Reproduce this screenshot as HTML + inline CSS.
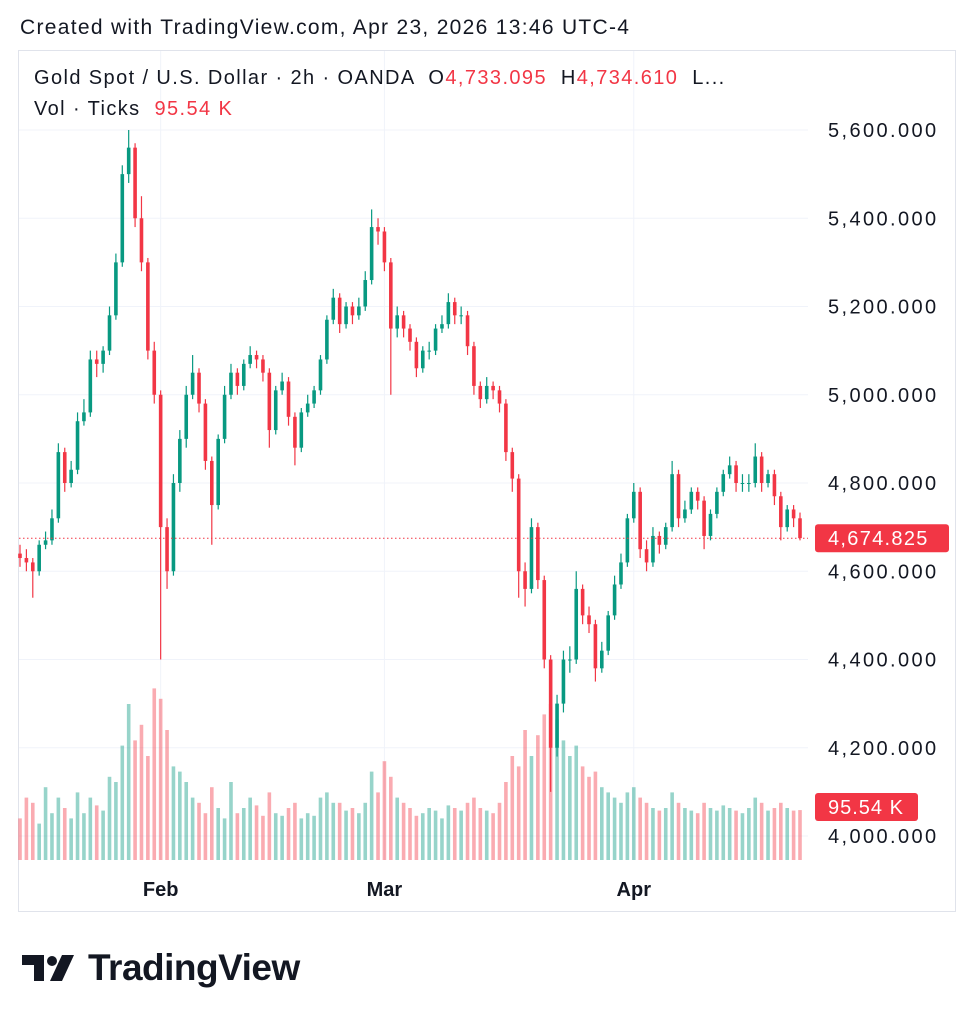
<!DOCTYPE html>
<html><head><meta charset="utf-8">
<style>
body{margin:0;background:#fff;width:974px;height:1024px;overflow:hidden;font-family:"Liberation Sans",sans-serif;color:#131722}
#hdr{position:absolute;left:20px;top:16px;font-size:21px;letter-spacing:1.3px}
#frame{position:absolute;left:18px;top:50px;width:938px;height:862px;border:1px solid #e0e3eb;box-sizing:border-box}
.leg{position:absolute;left:34px;font-size:20px;letter-spacing:1.4px;white-space:pre}
.r{color:#f23645}
#logo{position:absolute;left:22px;top:947px;display:flex;align-items:center}
#logo span{font-size:37px;font-weight:bold;letter-spacing:-0.5px;margin-left:12px}
</style></head><body>
<div id="hdr">Created with TradingView.com, Apr 23, 2026 13:46 UTC-4</div>
<div id="frame"></div>
<svg id="chart" width="974" height="1024" style="position:absolute;left:0;top:0"></svg>
<div class="leg" style="top:67px">Gold Spot / U.S. Dollar · 2h · OANDA  O<span class="r">4,733.095</span>  H<span class="r">4,734.610</span>  L...</div>
<div class="leg" style="top:98px">Vol · Ticks  <span class="r">95.54 K</span></div>
<div id="logo">
<svg width="54" height="30" viewBox="0 0 54 30"><path d="M0 2h22v26h-10v-16h-12z" fill="#131722"/><circle cx="30" cy="8" r="5" fill="#131722"/><path d="M40 2h12l-12 26h-12z" fill="#131722"/></svg>
<span>TradingView</span></div>
<script>
const closes=[4630,4620,4600,4660,4670,4720,4870,4800,4830,4940,4960,5080,5070,5100,5180,5300,5500,5560,5400,5300,5100,5000,4700,4600,4800,4900,5000,5050,4980,4850,4750,4900,5000,5050,5020,5070,5090,5080,5050,4920,5010,5030,4950,4880,4960,4980,5010,5080,5170,5220,5160,5200,5180,5200,5260,5380,5370,5300,5150,5180,5150,5120,5060,5100,5100,5150,5160,5210,5180,5180,5110,5020,4990,5020,5010,4980,4870,4810,4600,4560,4700,4580,4400,4200,4300,4400,4400,4560,4500,4480,4380,4420,4500,4570,4620,4720,4780,4650,4620,4680,4660,4700,4820,4720,4740,4780,4760,4680,4730,4780,4820,4840,4800,4800,4800,4860,4800,4820,4770,4700,4740,4720,4675];
const highs=[4660,4650,4630,4670,4690,4740,4890,4880,4850,4960,4990,5100,5100,5110,5200,5320,5520,5600,5570,5450,5310,5120,5010,4720,4820,4920,5020,5090,5060,4990,4860,4910,5020,5070,5060,5080,5110,5100,5090,5060,5020,5050,5040,4960,4970,5000,5020,5090,5180,5240,5230,5210,5210,5220,5280,5420,5400,5380,5310,5200,5190,5160,5130,5110,5120,5160,5180,5230,5220,5200,5190,5120,5030,5040,5030,5020,4990,4880,4820,4620,4720,4710,4590,4410,4320,4420,4430,4600,4570,4520,4490,4440,4510,4590,4640,4730,4800,4790,4670,4700,4690,4710,4850,4830,4760,4790,4790,4770,4740,4790,4830,4860,4850,4820,4820,4890,4870,4830,4830,4780,4750,4750,4733];
const lows=[4610,4600,4540,4590,4650,4660,4710,4780,4790,4820,4930,4950,5040,5050,5090,5170,5290,5480,5380,5280,5080,4980,4400,4560,4590,4780,4880,4990,4960,4830,4660,4740,4890,4990,5000,5010,5060,5060,5030,4880,4910,5000,4930,4840,4870,4950,4970,5000,5070,5160,5140,5150,5160,5170,5190,5250,5340,5280,5000,5130,5130,5100,5040,5050,5080,5090,5140,5150,5160,5160,5090,5000,4970,4980,4990,4960,4850,4780,4540,4520,4550,4560,4380,4100,4180,4280,4370,4390,4480,4460,4350,4370,4410,4490,4560,4610,4710,4630,4600,4610,4640,4650,4690,4700,4710,4730,4740,4650,4670,4720,4770,4810,4780,4780,4780,4790,4780,4790,4750,4670,4690,4700,4670];
const volumes=[80,120,110,70,140,90,120,100,80,130,90,120,105,95,160,150,220,300,230,260,200,330,310,250,180,170,150,120,110,90,140,100,80,150,90,100,120,105,85,130,90,85,100,110,80,90,85,120,130,110,110,95,100,90,110,170,130,190,160,120,110,100,85,90,100,95,80,105,100,95,110,120,100,95,90,110,150,200,180,250,200,240,280,300,270,230,200,220,180,160,170,140,130,120,110,130,140,120,110,100,95,100,130,110,100,95,90,110,100,95,105,100,95,90,100,120,110,95,100,110,100,95,96];
const priceTicks=[5600,5400,5200,5000,4800,4600,4400,4200,4000];
const monthLabels=["Feb","Mar","Apr"];
const monthIndex=[22,57,96];
const lastPrice=4674.825, lastVolLabel="95.54 K";

const svg=document.getElementById('chart'),NS='http://www.w3.org/2000/svg';
const X0=20,X1=800;
const xs=i=>X0+(X1-X0)*i/(closes.length-1);
const ys=p=>130+(5600-p)*0.44125;
const yv=v=>860-v*0.52;
function mk(t,a){const e=document.createElementNS(NS,t);for(const k in a)e.setAttribute(k,a[k]);svg.appendChild(e);return e;}
priceTicks.forEach(p=>{const g=mk('line',{x1:19,x2:808,y1:ys(p),y2:ys(p),stroke:'#f0f3fa'});

});
monthIndex.forEach(i=>{const g=mk('line',{x1:xs(i),x2:xs(i),y1:51,y2:860,stroke:'#f0f3fa'});

});
volumes.forEach((v,i)=>{const o=i?closes[i-1]:4640,up=closes[i]>=o;
const b=mk('rect',{x:xs(i)-1.8,y:yv(v),width:3.6,height:860-yv(v),fill:up?'rgba(8,153,129,0.42)':'rgba(242,54,69,0.42)'});

});
closes.forEach((c,i)=>{const o=i?closes[i-1]:4640,up=c>=o,col=up?'#089981':'#f23645';
const w=mk('line',{x1:xs(i),x2:xs(i),y1:ys(highs[i]),y2:ys(lows[i]),stroke:col,'stroke-width':1.2});


const top=ys(Math.max(o,c)),h=Math.max(1,Math.abs(ys(o)-ys(c)));
const b=mk('rect',{x:xs(i)-1.8,y:top,width:3.6,height:h,fill:col});

});
const lp=mk('line',{x1:19,x2:808,y1:ys(lastPrice),y2:ys(lastPrice),stroke:'#f23645','stroke-dasharray':'1.5 2.5'});


priceTicks.forEach(p=>{const t=mk('text',{x:828,y:ys(p)+7,'font-size':20,'letter-spacing':'2.4',fill:'#131722','font-family':'Liberation Sans'});
t.textContent=p.toLocaleString('en-US',{minimumFractionDigits:3});

});
const lb=mk('rect',{x:815,y:ys(lastPrice)-14,width:134,height:28,rx:3,fill:'#f23645'});


const lt=mk('text',{x:828,y:ys(lastPrice)+7,'font-size':20,'letter-spacing':'1.3',fill:'#fff','font-family':'Liberation Sans'});
lt.textContent=lastPrice.toLocaleString('en-US',{minimumFractionDigits:3});


const vb=mk('rect',{x:815,y:793,width:103,height:28,rx:3,fill:'#f23645'});


const vt=mk('text',{x:828,y:814,'font-size':20,'letter-spacing':'1',fill:'#fff','font-family':'Liberation Sans'});
vt.textContent=lastVolLabel;


monthLabels.forEach((m,k)=>{const t=mk('text',{x:xs(monthIndex[k]),y:896,'font-size':20,'font-weight':'bold',fill:'#131722','text-anchor':'middle','font-family':'Liberation Sans'});
t.textContent=m;

});
</script>
</body></html>
